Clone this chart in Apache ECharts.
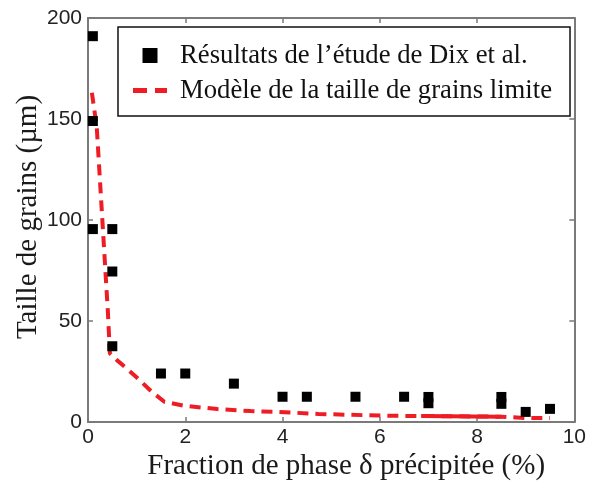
<!DOCTYPE html>
<html>
<head>
<meta charset="utf-8">
<script src="https://cdn.jsdelivr.net/npm/echarts@6/dist/echarts.min.js"></script>
<style>
  html, body { margin: 0; padding: 0; background: #fff; }
  #chart { width: 589px; height: 488px; }
</style>
</head>
<body>
<div id="chart"></div>
<script>
// mesures (Dix et al.)
const fracMesure = [0.1, 0.1, 0.1, 0.5, 0.5, 0.5, 1.5, 2, 3, 4, 4.5, 5.5, 6.5, 7, 7, 8.5, 8.5, 9, 9.5];
const tailleMesure = [191, 149, 95.5, 95.5, 74.5, 37.5, 24, 24, 19, 12.5, 12.5, 12.5, 12.5, 12.4, 9.3, 12.4, 9, 5, 6.5];
// modele taille de grains limite
const fracModele = [0.08, 0.18, 0.25, 0.31, 0.37, 0.41, 0.45, 0.6, 0.82, 1.05, 1.31, 1.57, 1.98, 2.66, 3.35, 3.9, 4.74, 6.1, 6.65, 6.85, 8.5, 9, 9.5];
const tailleModele = [163, 146, 118, 94, 70, 54, 34, 30.5, 26, 21, 15, 10, 8, 6.4, 5.4, 5, 4, 3.1, 3, 3, 2.6, 2, 2];
// partie continue du trace (7 - 8.5)
const fracContinu = [6.85, 8.5];
const tailleContinu = [3, 2.6];
const xTicks = [0, 2, 4, 6, 8, 10];
const yTicks = [0, 50, 100, 150, 200];

const serif = "'Liberation Serif', 'DejaVu Serif', serif";
const sans = "'Liberation Sans', Arial, sans-serif";
const axisGray = "#7a7a7a";
const rouge = "#ee1d25";

const chart = echarts.init(document.getElementById("chart"));

const boxAxis = (extra) => Object.assign({
  type: "value",
  axisLine: { show: true, onZero: false, lineStyle: { color: axisGray, width: 2 } },
  axisTick: { show: true, inside: true, length: 5, lineStyle: { color: axisGray, width: 1.5 } },
  splitLine: { show: false },
}, extra);

const option = {
  backgroundColor: "#fff",
  animation: false,
  grid: { left: 88, right: 12, top: 18, bottom: 66 },
  xAxis: [
    boxAxis({
      min: xTicks[0], max: xTicks[xTicks.length - 1], interval: 2,
      position: "bottom",
      name: "Fraction de phase δ précipitée (%)",
      nameLocation: "middle",
      nameGap: 30,
      nameMoveOverlap: false,
      nameTextStyle: { fontFamily: serif, fontSize: 29, color: "#1a1a1a", padding: [0, 0, 0, 30] },
      axisLabel: { margin: 5, fontFamily: sans, fontSize: 21, color: "#222" },
    }),
    boxAxis({
      min: xTicks[0], max: xTicks[xTicks.length - 1], interval: 2,
      position: "top",
      axisLabel: { show: false },
    }),
  ],
  yAxis: [
    boxAxis({
      min: yTicks[0], max: yTicks[yTicks.length - 1], interval: 50,
      position: "left",
      name: "Taille de grains (µm)",
      nameLocation: "middle",
      nameGap: 45,
      nameMoveOverlap: false,
      nameTextStyle: { fontFamily: serif, fontSize: 29, color: "#1a1a1a", padding: [0, 0, 0, 6] },
      axisLabel: { margin: 6, fontFamily: sans, fontSize: 21, color: "#222" },
    }),
    boxAxis({
      min: yTicks[0], max: yTicks[yTicks.length - 1], interval: 50,
      position: "right",
      axisLabel: { show: false },
    }),
  ],
  legend: {
    left: 118,
    top: 27,
    orient: "vertical",
    backgroundColor: "#fff",
    borderColor: "#111",
    borderWidth: 1.5,
    borderRadius: 0,
    padding: [15, 18, 12, 15],
    itemWidth: 34,
    itemHeight: 15,
    itemGap: 8,
    textStyle: { fontFamily: serif, fontSize: 26.7, color: "#111", padding: [0, 0, 0, 8] },
    data: [
      { name: "Résultats de l’étude de Dix et al.", icon: "path://M10,0H25V15H10Z" },
      { name: "Modèle de la taille de grains limite", icon: "path://M0,5H14V10H0Z M22,5H34V10H22Z" },
    ],
  },
  series: [
    {
      name: "Modèle de la taille de grains limite",
      type: "line",
      data: fracModele.map((x, i) => [x, tailleModele[i]]),
      showSymbol: false,
      symbol: "none",
      lineStyle: { color: rouge, width: 4, type: [11, 7] },
      itemStyle: { color: rouge },
      z: 2,
    },
    {
      type: "line",
      data: fracContinu.map((x, i) => [x, tailleContinu[i]]),
      showSymbol: false,
      symbol: "none",
      lineStyle: { color: rouge, width: 4 },
      z: 2,
    },
    {
      name: "Résultats de l’étude de Dix et al.",
      type: "scatter",
      data: fracMesure.map((x, i) => [x, tailleMesure[i]]),
      symbol: "rect",
      symbolSize: 10,
      itemStyle: { color: "#000", opacity: 1 },
      z: 3,
    },
  ],
};
chart.setOption(option);
</script>
</body>
</html>
